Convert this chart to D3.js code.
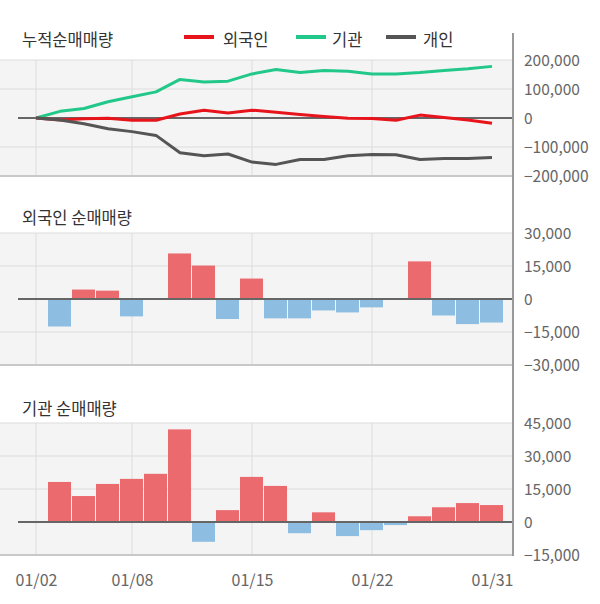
<!DOCTYPE html>
<html><head><meta charset="utf-8">
<script src="https://cdn.jsdelivr.net/npm/d3@7"></script>
<style>
html,body{margin:0;padding:0;background:#fff;}
svg text{font-family:"Noto Sans CJK KR","Noto Sans",sans-serif;}
</style></head>
<body><svg id="c" width="600" height="604"></svg>
<script>
const dates = ["01/02","01/03","01/06","01/07","01/08","01/09","01/10","01/13","01/14","01/15","01/16","01/17","01/20","01/21","01/22","01/23","01/28","01/29","01/30","01/31"];
const tickDates = ["01/02","01/08","01/15","01/22","01/31"];
const cumForeign = [0,-7000,-3000,-1000,-8000,-8000,14000,27000,17000,27000,20000,12000,5000,-1000,-2000,-8000,10000,2000,-7000,-18000];
const cumInst = [0,23000,33000,56000,73000,90000,133000,124000,127000,152000,167000,157000,164000,161000,152000,152000,157000,164000,170000,178000];
const cumIndiv = [0,-7000,-20000,-37000,-47000,-60000,-120000,-130000,-124000,-152000,-160000,-143000,-143000,-130000,-126000,-127000,-143000,-140000,-140000,-136000];
const dailyForeign = [0,-12500,4300,3800,-7900,0,20700,15200,-9100,9300,-8800,-8800,-5200,-6100,-3800,0,17100,-7500,-11400,-10700];
const dailyInst = [0,18200,11800,17300,19600,21900,42100,-9000,5400,20500,16400,-5100,4400,-6400,-3700,-1400,2600,6700,8600,7700];
const cumTicks = [200000,100000,0,-100000,-200000];
const foreignTicks = [30000,15000,0,-15000,-30000];
const instTicks = [45000,30000,15000,0,-15000];
const seriesNames = ["외국인","기관","개인"];
const titles = ["누적순매매량","외국인 순매매량","기관 순매매량"];

const svg = d3.select("#c");
const plotL = 0, plotR = 513;
const x = d3.scalePoint().domain(dates).range([36, 492]);
const fmt = d3.format(",");
const colors = {red:"#e8141c", green:"#22c88a", gray:"#555555", barPos:"#eb6a6e", barNeg:"#8dbde0"};

function panel(y0, y1, domain, ticks) {
  const y = d3.scaleLinear().domain(domain).range([y1, y0]);
  const g = svg.append("g");
  g.append("rect").attr("x", plotL).attr("y", y0).attr("width", plotR - plotL).attr("height", y1 - y0).attr("fill", "#f4f4f4");
  g.selectAll(".hg").data(ticks.filter(t => t !== 0 && y(t) < y1 - 1)).enter().append("line")
    .attr("x1", plotL).attr("x2", plotR).attr("y1", d => y(d)).attr("y2", d => y(d))
    .attr("stroke", "#dcdcdc").attr("stroke-width", 1);
  g.selectAll(".vg").data(tickDates.slice(0, -1)).enter().append("line")
    .attr("x1", d => x(d)).attr("x2", d => x(d)).attr("y1", y0).attr("y2", y1)
    .attr("stroke", "#dcdcdc").attr("stroke-width", 1);
  g.append("line").attr("x1", plotL).attr("x2", plotR).attr("y1", y1).attr("y2", y1)
    .attr("stroke", "#c8c8c8").attr("stroke-width", 2);
  const ax = d3.axisRight(y).tickValues(ticks).tickSize(0).tickPadding(0).tickFormat(fmt);
  const a = svg.append("g").attr("transform", `translate(524,0)`).call(ax);
  a.select(".domain").remove();
  a.selectAll("text").attr("fill", "#666").attr("font-size", "15.5px").attr("x", 0).attr("dy", "0.35em");
  return {g, y};
}

function zeroLine(g, y) {
  g.append("line").attr("x1", 18).attr("x2", plotR).attr("y1", y(0)).attr("y2", y(0))
    .attr("stroke", "#666").attr("stroke-width", 2);
}

// top panel
const p1 = panel(60, 176, [-200000, 200000], cumTicks);
zeroLine(p1.g, p1.y);
const line = d3.line().x((d, i) => x(dates[i])).y(d => p1.y(d));
[[cumInst, colors.green], [cumForeign, colors.red], [cumIndiv, colors.gray]].forEach(([data, c]) => {
  p1.g.append("path").attr("d", line(data)).attr("fill", "none").attr("stroke", c).attr("stroke-width", 3).attr("stroke-linejoin", "round");
});

function bars(p, data) {
  p.g.selectAll(".bar").data(data.map((v, i) => ({v, d: dates[i]})).filter(o => o.v !== 0)).enter().append("rect")
    .attr("x", o => x(o.d) - 12).attr("width", 23)
    .attr("y", o => Math.min(p.y(o.v), p.y(0)))
    .attr("height", o => Math.abs(p.y(o.v) - p.y(0)))
    .attr("fill", o => o.v > 0 ? colors.barPos : colors.barNeg);
  zeroLine(p.g, p.y);
}
const p2 = panel(233, 365, [-30000, 30000], foreignTicks);
bars(p2, dailyForeign);
const p3 = panel(423, 555, [-15000, 45000], instTicks);
bars(p3, dailyInst);

// right axis line
svg.append("line").attr("x1", 513).attr("x2", 513).attr("y1", 33).attr("y2", 556).attr("stroke", "#999").attr("stroke-width", 2);

// titles
[[titles[0], 40], [titles[1], 218], [titles[2], 409]].forEach(([t, yy]) => {
  svg.append("text").attr("x", 22).attr("y", yy).attr("dy", "0.35em").attr("font-size", "16.5px").attr("fill", "#333").text(t);
});

// legend
const leg = [[seriesNames[0], colors.red, 184, 223], [seriesNames[1], colors.green, 296, 332], [seriesNames[2], colors.gray, 386, 423]];
leg.forEach(([t, c, lx, tx]) => {
  svg.append("line").attr("x1", lx).attr("x2", lx + 30).attr("y1", 37).attr("y2", 37).attr("stroke", c).attr("stroke-width", 4);
  svg.append("text").attr("x", tx).attr("y", 40).attr("dy", "0.35em").attr("font-size", "16.5px").attr("fill", "#333").text(t);
});

// x axis labels
const xa = d3.axisBottom(x).tickValues(tickDates).tickSize(0).tickPadding(0);
const xg = svg.append("g").attr("transform", "translate(0,572)").call(xa);
xg.select(".domain").remove();
xg.selectAll("text").attr("fill", "#666").attr("font-size", "16px").attr("dy", "0.35em").attr("y", 8);
</script></body></html>
